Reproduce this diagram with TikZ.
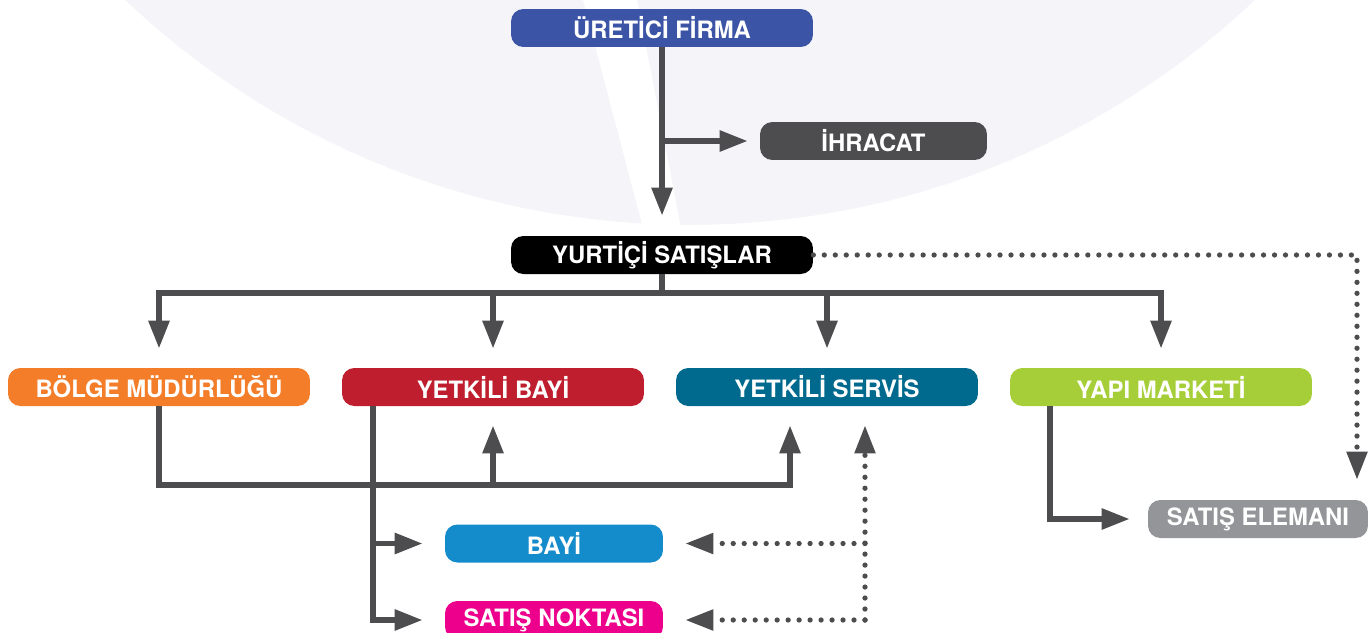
\documentclass[tikz,border=0pt]{standalone}
\usepackage{fontspec}
\setmainfont{TeX Gyre Heros}
\usetikzlibrary{arrows.meta,positioning}
\definecolor{zemin}{HTML}{F4F4F9}
\definecolor{cizgi}{HTML}{4D4D4F}
\definecolor{cUretici}{HTML}{3B54A5}
\definecolor{cIhracat}{HTML}{4D4D4F}
\definecolor{cBolge}{HTML}{F37D28}
\definecolor{cYbayi}{HTML}{BE1E2D}
\definecolor{cYservis}{HTML}{006A8E}
\definecolor{cYapi}{HTML}{A6CE39}
\definecolor{cEleman}{HTML}{939598}
\definecolor{cBayi}{HTML}{148BCB}
\definecolor{cNokta}{HTML}{EC008C}
\tikzset{
	kutu/.style={rounded corners=7pt, minimum width=6.04cm, minimum height=0.76cm, inner sep=0pt,
		text=white, font=\fontsize{13.6}{13.6}\selectfont\bfseries},
	hat/.style={draw=cizgi, line width=3.2pt},
	ok/.style={hat, -{Triangle[length=0.56cm, width=0.4cm]}},
	noktali/.style={draw=cizgi, line width=3pt, line cap=round, dash pattern=on 0pt off 6.25pt},
	nok/.style={noktali, -{Triangle[length=0.56cm, width=0.4cm]}},
}

\begin{document}
\begin{tikzpicture}[x=0.02cm, y=-0.02cm]
	\useasboundingbox (0,0) rectangle (1372,632);
	\fill[zemin] (690,-597) circle[radius=16.44cm];
	\fill[white] (583,0) -- (637,0) -- (681,228) -- (643,228) -- cycle;

	\node[kutu, fill=cUretici] (uretici) at (662,28) {ÜRETİCİ FİRMA};
	\node[kutu, fill=cIhracat, minimum width=4.54cm] (ihracat) at (873.5,141) {İHRACAT};
	\node[kutu, fill=black] (yurtici) at (662,255) {YURTİÇİ SATIŞLAR};
	\node[kutu, fill=cBolge] (bolge) at (159,387) {BÖLGE MÜDÜRLÜĞÜ};
	\node[kutu, fill=cYbayi] (ybayi) at (493,387) {YETKİLİ BAYİ};
	\node[kutu, fill=cYservis] (yservis) at (827,387) {YETKİLİ SERVİS};
	\node[kutu, fill=cYapi] (yapi) at (1161,387) {YAPI MARKETİ};
	\node[kutu, fill=cEleman, minimum width=4.4cm] (eleman) at (1258,519) {SATIŞ ELEMANI};
	\node[kutu, fill=cBayi, minimum width=4.36cm] (bayi) at (554,543.5) {BAYİ};
	\node[kutu, fill=cNokta, minimum width=4.36cm] (satisnokta) at (554,620) {SATIŞ NOKTASI};

	\coordinate (dal) at (662,293);
	\coordinate (kose) at (1357,255);
	\coordinate (alt) at (790,485);
	\coordinate (yb) at (373,406);
	\coordinate (sx) at (865,620);
	\coordinate (ym) at (1050,406);

	\draw[ok, shorten >=0.4cm] (uretici) -- (yurtici);
	\draw[ok, shorten >=0.24cm] (uretici |- ihracat) -- (ihracat);

	\draw[hat] (yurtici) -- (dal);
	\draw[hat, line cap=rect] (bolge |- dal) -- (yapi |- dal);
	\foreach \k in {bolge,ybayi,yservis,yapi}
		\draw[ok, shorten >=0.38cm] (\k |- dal) -- (\k);

	\draw[nok, shorten >=0.4cm] (yurtici) -- (kose) -- (kose |- eleman.north);

	\draw[ok, shorten >=0.38cm] (bolge) |- (alt) -- (alt |- yservis.south);
	\draw[ok, shorten >=0.38cm] (ybayi |- alt) -- (ybayi);

	\draw[ok, shorten >=0.44cm] (yb) |- (satisnokta);
	\draw[ok, shorten >=0.44cm] (yb |- bayi) -- (bayi);

	\draw[nok, shorten >=0.38cm] (sx) -- (sx |- yservis.south);
	\draw[nok, shorten >=0.44cm] (sx |- bayi) -- (bayi);
	\draw[nok, shorten >=0.44cm] (sx) -- (satisnokta);

	\draw[ok, shorten >=0.36cm] (ym) |- (eleman);
\end{tikzpicture}
\end{document}
